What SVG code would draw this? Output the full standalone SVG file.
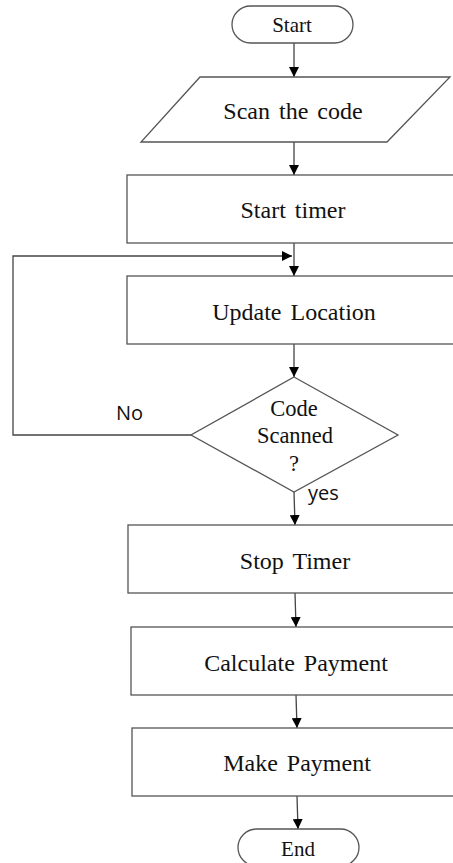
<svg xmlns="http://www.w3.org/2000/svg" width="453" height="863" viewBox="0 0 453 863">
<style>
.box{fill:#fff;stroke:#555;stroke-width:1.3}
.t{font-family:"Liberation Serif","Times New Roman",serif;font-size:24px;word-spacing:3px;fill:#111;text-anchor:middle}
.d{font-family:"Liberation Serif","Times New Roman",serif;font-size:22.5px;fill:#111;text-anchor:middle}
.lbl{font-family:"Open Sans","Liberation Sans",sans-serif;font-size:20px;fill:#111}
.c{fill:none;stroke:#444;stroke-width:1.3}
</style>
<defs>
<marker id="ah" markerWidth="10" markerHeight="10" refX="10" refY="5" orient="auto" markerUnits="userSpaceOnUse">
<path d="M0,0 L10,5 L0,10 Z" fill="#000"/>
</marker>
</defs>
<rect width="453" height="863" fill="#fff"/>
<g id="connectors">
<line class="c" x1="294" y1="43" x2="294" y2="77" marker-end="url(#ah)"/>
<line class="c" x1="294" y1="142" x2="294" y2="175" marker-end="url(#ah)"/>
<line class="c" x1="294" y1="243" x2="294" y2="276" marker-end="url(#ah)"/>
<line class="c" x1="294" y1="344" x2="294" y2="377" marker-end="url(#ah)"/>
<polyline class="c" points="191,435 13,435 13,256 292,256" marker-end="url(#ah)"/>
<line class="c" x1="294" y1="492" x2="295" y2="525" marker-end="url(#ah)"/>
<line class="c" x1="295" y1="593" x2="296" y2="627" marker-end="url(#ah)"/>
<line class="c" x1="296" y1="695" x2="297" y2="728" marker-end="url(#ah)"/>
<line class="c" x1="297" y1="796" x2="298" y2="829" marker-end="url(#ah)"/>
<text class="lbl" x="116" y="420">No</text>
<text class="lbl" x="308" y="500">yes</text>
</g>
<g id="start">
<rect class="box" x="232" y="6" width="121" height="37" rx="18.5"/>
<text class="t" x="292" y="32" style="font-size:21px">Start</text>
</g>
<g id="scan">
<polygon class="box" points="200,77 450,77 387,142 141,142"/>
<text class="t" x="293" y="119">Scan the code</text>
</g>
<g id="starttimer">
<rect class="box" x="127" y="175" width="340" height="68"/>
<text class="t" x="293" y="218">Start timer</text>
</g>
<g id="update">
<rect class="box" x="127" y="276" width="340" height="68"/>
<text class="t" x="294" y="320">Update Location</text>
</g>
<g id="decision">
<polygon class="box" points="294,377 398,435 294,492 191,435"/>
<text class="d" x="294" y="416">Code</text>
<text class="d" x="295" y="443">Scanned</text>
<text class="d" x="294" y="471">?</text>
</g>
<g id="stoptimer">
<rect class="box" x="128" y="525" width="340" height="68"/>
<text class="t" x="295" y="569">Stop Timer</text>
</g>
<g id="calc">
<rect class="box" x="131" y="627" width="340" height="68"/>
<text class="t" x="296" y="671">Calculate Payment</text>
</g>
<g id="make">
<rect class="box" x="132" y="728" width="340" height="68"/>
<text class="t" x="297" y="771">Make Payment</text>
</g>
<g id="end">
<rect class="box" x="238" y="829" width="121" height="37" rx="18.5"/>
<text class="t" x="298" y="856" style="font-size:21px">End</text>
</g>
</svg>
